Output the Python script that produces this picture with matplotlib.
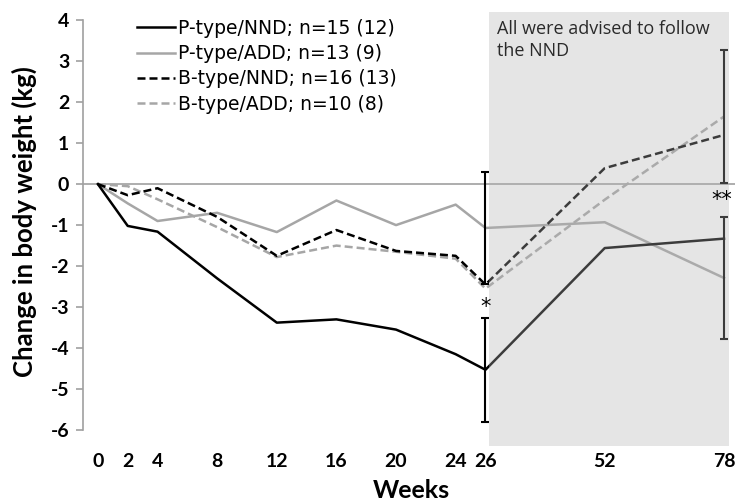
import numpy as np
import matplotlib
matplotlib.use("Agg")
import matplotlib.pyplot as plt

plt.rcParams['font.family'] = ['Lato', 'DejaVu Sans']

# Data (change in body weight, kg)
weeks = [0, 2, 4, 8, 12, 16, 20, 24, 26, 52, 78]
p_nnd = [0, -1.02, -1.16, -2.3, -3.38, -3.3, -3.55, -4.15, -4.53, -1.56, -1.33]
p_add = [0, -0.47, -0.9, -0.7, -1.17, -0.4, -1.0, -0.5, -1.07, -0.93, -2.29]
b_nnd = [0, -0.27, -0.1, -0.8, -1.75, -1.12, -1.63, -1.75, -2.45, 0.39, 1.2]
b_add = [0, -0.05, -0.37, -1.05, -1.78, -1.5, -1.65, -1.82, -2.55, -0.38, 1.65]

labels = ["P-type/NND; n=15 (12)", "P-type/ADD; n=13 (9)",
          "B-type/NND; n=16 (13)", "B-type/ADD; n=10 (8)"]

# error bars: (week, mean, sd)
err_26 = [(26, -1.07, 1.36), (26, -4.53, 1.27)]
err_78 = [(78, 1.65, 1.63), (78, -2.29, 1.5)]


# axis is linear up to week 26, compressed afterwards
def fwd(w):
    w = np.asarray(w, dtype=float)
    return np.where(w <= 26, w, 26 + (w - 26) * 8 / 26)


def inv(p):
    p = np.asarray(p, dtype=float)
    return np.where(p <= 26, p, 26 + (p - 26) * 26 / 8)


fig = plt.figure(figsize=(7.35, 5.01), dpi=100)
ax = fig.add_axes([83 / 735, 55 / 501, 652 / 735, 434 / 501])
ax.set_xscale('function', functions=(fwd, inv))

gray = '#A6A6A6'
ax.axhline(0, color='#A0A0A0', lw=1.2, zorder=1)

ax.plot(weeks, p_nnd, color='black', lw=1.8, label=labels[0], zorder=3)
ax.plot(weeks, p_add, color=gray, lw=1.8, label=labels[1], zorder=2)
ax.plot(weeks, b_nnd, color='black', lw=1.8, ls=(0, (3.2, 1.6)), label=labels[2], zorder=3)
ax.plot(weeks, b_add, color=gray, lw=1.8, ls=(0, (3.2, 1.6)), label=labels[3], zorder=2)

for w, m, s in err_26 + err_78:
    ax.errorbar(w, m, yerr=s, color='black', lw=1.5, capsize=3, capthick=1.5,
                zorder=3)

# shaded follow-up period drawn over the lines
ax.axvspan(26.8, 79.0, facecolor=(0.70, 0.70, 0.70), alpha=0.34, lw=0, zorder=4)

ax.text(26, -3.0, '*', ha='center', va='center', fontsize=15,
        family='DejaVu Sans', zorder=5)
ax.text(77.6, -0.38, '**', ha='center', va='center', fontsize=15,
        family='DejaVu Sans', zorder=5)

ax.set_xlim(-1, 80.4)
ax.set_ylim(-6.39, 4.2)
ax.set_xticks(weeks)
ax.set_xticklabels([str(w) for w in weeks], fontsize=14, fontweight='bold')
ax.set_yticks(range(-6, 5))
ax.set_yticklabels([str(v) for v in range(-6, 5)], fontsize=14, fontweight='bold')
ax.tick_params(axis='x', length=0, pad=5)
ax.tick_params(axis='y', length=5, width=1.2, color='#A0A0A0', pad=5)

for s in ['top', 'right', 'bottom']:
    ax.spines[s].set_visible(False)
ax.spines['left'].set_color('#A0A0A0')
ax.spines['left'].set_linewidth(1.2)
ax.spines['left'].set_bounds(-6, 4)

ax.set_ylabel('Change in body weight (kg)', fontsize=18.5, fontweight='bold')
ax.yaxis.set_label_coords(-0.071, 0.518)
ax.set_xlabel('Weeks', fontsize=18, fontweight='bold')
ax.xaxis.set_label_coords(0.503, -0.075)

fig.legend(loc='upper left', bbox_to_anchor=(137 / 735, 1 - 19 / 501),
           frameon=False, handlelength=2.0, handletextpad=0.2,
           borderpad=0, borderaxespad=0, labelspacing=0.33,
           prop={'family': 'DejaVu Sans', 'size': 13.5})

fig.text(497 / 735, 1 - 20 / 501, 'All were advised to follow\nthe NND',
         fontsize=13, family='Open Sans', color='#2a2a2a', va='top',
         ha='left', linespacing=1.3)

fig.savefig('out.png', dpi=100)
